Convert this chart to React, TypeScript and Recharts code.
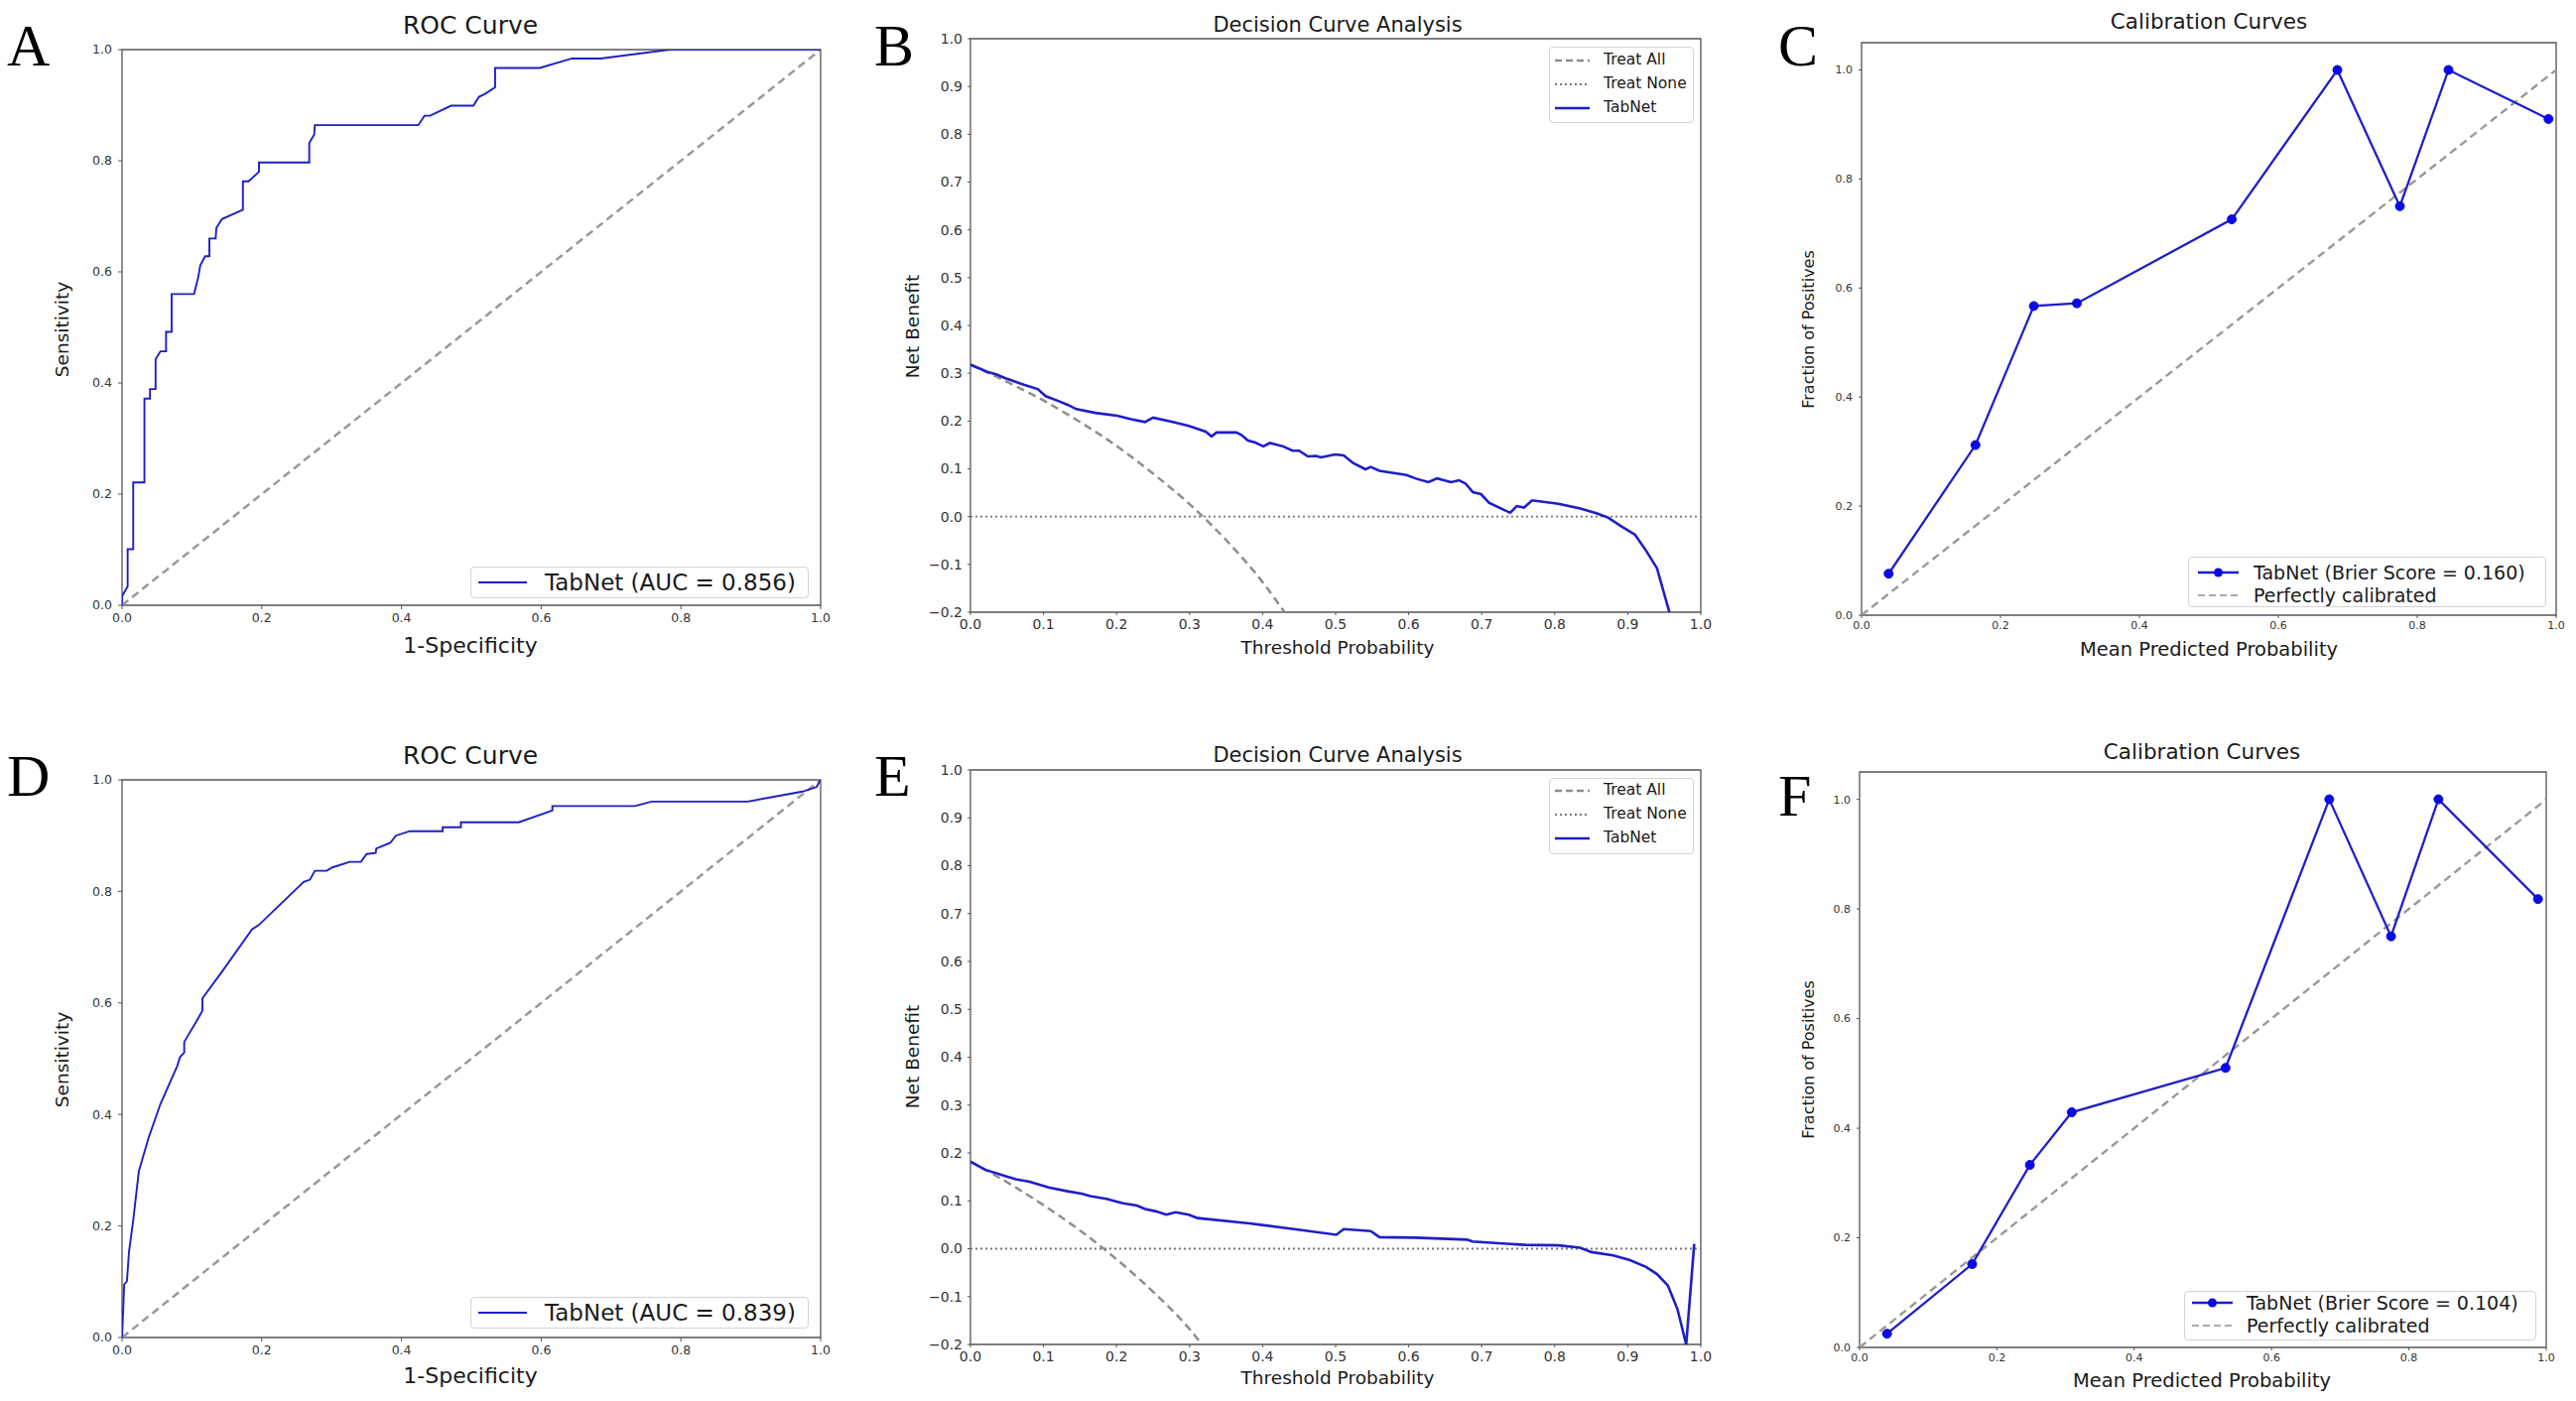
import React from 'react';
import { LineChart, Line, XAxis, YAxis, ReferenceArea } from 'recharts';

type P = { x: number; y: number };

// ---------- DATA ----------
const rocA: P[] = [
  { x: 0, y: 0 }, { x: 0, y: 0.016 }, { x: 0.008, y: 0.034 }, { x: 0.008, y: 0.101 }, { x: 0.016, y: 0.101 },
  { x: 0.016, y: 0.221 }, { x: 0.032, y: 0.221 }, { x: 0.032, y: 0.372 }, { x: 0.04, y: 0.372 }, { x: 0.04, y: 0.389 },
  { x: 0.048, y: 0.389 }, { x: 0.048, y: 0.443 }, { x: 0.055, y: 0.457 }, { x: 0.063, y: 0.457 }, { x: 0.063, y: 0.492 },
  { x: 0.071, y: 0.492 }, { x: 0.071, y: 0.56 }, { x: 0.103, y: 0.56 }, { x: 0.109, y: 0.59 }, { x: 0.112, y: 0.612 },
  { x: 0.119, y: 0.628 }, { x: 0.125, y: 0.628 }, { x: 0.125, y: 0.66 }, { x: 0.134, y: 0.66 }, { x: 0.135, y: 0.679 },
  { x: 0.143, y: 0.695 }, { x: 0.173, y: 0.712 }, { x: 0.173, y: 0.763 }, { x: 0.181, y: 0.763 }, { x: 0.196, y: 0.78 },
  { x: 0.196, y: 0.797 }, { x: 0.268, y: 0.797 }, { x: 0.268, y: 0.832 }, { x: 0.275, y: 0.847 }, { x: 0.276, y: 0.864 },
  { x: 0.424, y: 0.864 }, { x: 0.433, y: 0.881 }, { x: 0.441, y: 0.881 }, { x: 0.471, y: 0.899 }, { x: 0.503, y: 0.899 },
  { x: 0.511, y: 0.915 }, { x: 0.519, y: 0.92 }, { x: 0.534, y: 0.932 }, { x: 0.534, y: 0.967 }, { x: 0.598, y: 0.967 },
  { x: 0.644, y: 0.984 }, { x: 0.685, y: 0.984 }, { x: 0.784, y: 1.0 }, { x: 1.0, y: 1.0 },
];

const rocD: P[] = [
  { x: 0, y: 0 }, { x: 0.002, y: 0.061 }, { x: 0.003, y: 0.095 }, { x: 0.007, y: 0.101 }, { x: 0.01, y: 0.154 },
  { x: 0.016, y: 0.21 }, { x: 0.024, y: 0.298 }, { x: 0.038, y: 0.358 }, { x: 0.055, y: 0.419 }, { x: 0.079, y: 0.487 },
  { x: 0.083, y: 0.503 }, { x: 0.089, y: 0.511 }, { x: 0.089, y: 0.53 }, { x: 0.107, y: 0.568 }, { x: 0.115, y: 0.586 },
  { x: 0.115, y: 0.608 }, { x: 0.143, y: 0.656 }, { x: 0.186, y: 0.732 }, { x: 0.196, y: 0.74 }, { x: 0.26, y: 0.817 },
  { x: 0.269, y: 0.821 }, { x: 0.276, y: 0.837 }, { x: 0.293, y: 0.837 }, { x: 0.301, y: 0.843 }, { x: 0.326, y: 0.853 },
  { x: 0.342, y: 0.853 }, { x: 0.35, y: 0.867 }, { x: 0.363, y: 0.869 }, { x: 0.364, y: 0.877 }, { x: 0.384, y: 0.887 },
  { x: 0.392, y: 0.9 }, { x: 0.412, y: 0.908 }, { x: 0.459, y: 0.908 }, { x: 0.459, y: 0.915 }, { x: 0.485, y: 0.915 },
  { x: 0.485, y: 0.924 }, { x: 0.568, y: 0.924 }, { x: 0.616, y: 0.945 }, { x: 0.616, y: 0.953 }, { x: 0.734, y: 0.953 },
  { x: 0.758, y: 0.961 }, { x: 0.895, y: 0.961 }, { x: 0.974, y: 0.979 }, { x: 0.994, y: 0.987 }, { x: 1.0, y: 1.0 },
];

const chanceLine: P[] = [{ x: 0, y: 0 }, { x: 1, y: 1 }];
const treatNone: P[] = [{ x: 0, y: 0 }, { x: 1, y: 0 }];

const dcaBModel: P[] = [
  { x: 0, y: 0.318 }, { x: 0.023, y: 0.303 }, { x: 0.035, y: 0.298 }, { x: 0.047, y: 0.29 }, { x: 0.073, y: 0.276 },
  { x: 0.092, y: 0.267 }, { x: 0.103, y: 0.252 }, { x: 0.122, y: 0.241 }, { x: 0.133, y: 0.234 }, { x: 0.145, y: 0.225 },
  { x: 0.171, y: 0.217 }, { x: 0.201, y: 0.211 }, { x: 0.22, y: 0.204 }, { x: 0.239, y: 0.198 }, { x: 0.25, y: 0.207 },
  { x: 0.277, y: 0.198 }, { x: 0.299, y: 0.19 }, { x: 0.322, y: 0.178 }, { x: 0.33, y: 0.168 }, { x: 0.337, y: 0.176 },
  { x: 0.364, y: 0.176 }, { x: 0.371, y: 0.171 }, { x: 0.38, y: 0.159 }, { x: 0.39, y: 0.155 }, { x: 0.401, y: 0.147 },
  { x: 0.41, y: 0.154 }, { x: 0.428, y: 0.147 }, { x: 0.441, y: 0.138 }, { x: 0.45, y: 0.138 }, { x: 0.462, y: 0.126 },
  { x: 0.473, y: 0.127 }, { x: 0.48, y: 0.124 }, { x: 0.499, y: 0.13 }, { x: 0.511, y: 0.128 }, { x: 0.524, y: 0.112 },
  { x: 0.541, y: 0.099 }, { x: 0.548, y: 0.104 }, { x: 0.56, y: 0.096 }, { x: 0.597, y: 0.087 }, { x: 0.609, y: 0.08 },
  { x: 0.627, y: 0.072 }, { x: 0.639, y: 0.08 }, { x: 0.658, y: 0.072 }, { x: 0.669, y: 0.076 }, { x: 0.678, y: 0.069 },
  { x: 0.688, y: 0.051 }, { x: 0.699, y: 0.047 }, { x: 0.71, y: 0.029 }, { x: 0.729, y: 0.015 }, { x: 0.739, y: 0.008 },
  { x: 0.748, y: 0.022 }, { x: 0.758, y: 0.019 }, { x: 0.769, y: 0.034 }, { x: 0.805, y: 0.027 }, { x: 0.835, y: 0.017 },
  { x: 0.857, y: 0.007 }, { x: 0.873, y: -0.002 }, { x: 0.891, y: -0.02 }, { x: 0.91, y: -0.038 }, { x: 0.925, y: -0.071 },
  { x: 0.94, y: -0.108 }, { x: 0.957, y: -0.2 },
];

const dcaBAll: P[] = [
  { x: 0, y: 0.318 }, { x: 0.05, y: 0.282 }, { x: 0.1, y: 0.243 }, { x: 0.15, y: 0.198 }, { x: 0.2, y: 0.148 },
  { x: 0.25, y: 0.09 }, { x: 0.3, y: 0.026 }, { x: 0.35, y: -0.049 }, { x: 0.4, y: -0.137 }, { x: 0.43, y: -0.2 },
];

const dcaEModel: P[] = [
  { x: 0, y: 0.182 }, { x: 0.02, y: 0.165 }, { x: 0.039, y: 0.156 }, { x: 0.062, y: 0.145 }, { x: 0.081, y: 0.14 },
  { x: 0.107, y: 0.128 }, { x: 0.133, y: 0.12 }, { x: 0.152, y: 0.115 }, { x: 0.164, y: 0.11 }, { x: 0.186, y: 0.104 },
  { x: 0.209, y: 0.095 }, { x: 0.228, y: 0.09 }, { x: 0.239, y: 0.083 }, { x: 0.254, y: 0.078 }, { x: 0.268, y: 0.071 },
  { x: 0.281, y: 0.076 }, { x: 0.299, y: 0.071 }, { x: 0.311, y: 0.064 }, { x: 0.382, y: 0.053 }, { x: 0.443, y: 0.041 },
  { x: 0.501, y: 0.029 }, { x: 0.511, y: 0.041 }, { x: 0.548, y: 0.037 }, { x: 0.56, y: 0.024 }, { x: 0.609, y: 0.023 },
  { x: 0.68, y: 0.019 }, { x: 0.687, y: 0.015 }, { x: 0.759, y: 0.008 }, { x: 0.805, y: 0.007 }, { x: 0.835, y: 0.002 },
  { x: 0.85, y: -0.007 }, { x: 0.88, y: -0.014 }, { x: 0.903, y: -0.024 }, { x: 0.925, y: -0.038 }, { x: 0.94, y: -0.053 },
  { x: 0.955, y: -0.077 }, { x: 0.968, y: -0.126 }, { x: 0.98, y: -0.2 }, { x: 0.991, y: 0.01 },
];

const dcaEAll: P[] = [
  { x: 0, y: 0.182 }, { x: 0.05, y: 0.139 }, { x: 0.1, y: 0.091 }, { x: 0.15, y: 0.038 }, { x: 0.2, y: -0.022 },
  { x: 0.25, y: -0.09 }, { x: 0.3, y: -0.168 }, { x: 0.317, y: -0.2 },
];

const calibC: P[] = [
  { x: 0.039, y: 0.076 }, { x: 0.164, y: 0.312 }, { x: 0.248, y: 0.567 }, { x: 0.31, y: 0.572 }, { x: 0.533, y: 0.726 },
  { x: 0.685, y: 1.0 }, { x: 0.775, y: 0.75 }, { x: 0.845, y: 1.0 }, { x: 0.989, y: 0.91 },
];

const calibF: P[] = [
  { x: 0.04, y: 0.025 }, { x: 0.164, y: 0.152 }, { x: 0.248, y: 0.333 }, { x: 0.309, y: 0.429 }, { x: 0.533, y: 0.51 },
  { x: 0.684, y: 1.0 }, { x: 0.774, y: 0.75 }, { x: 0.843, y: 1.0 }, { x: 0.988, y: 0.818 },
];

const rocTicks = [0, 0.2, 0.4, 0.6, 0.8, 1.0];
const dcaXTicks = [0, 0.1, 0.2, 0.3, 0.4, 0.5, 0.6, 0.7, 0.8, 0.9, 1.0];
const dcaYTicks = [-0.2, -0.1, 0, 0.1, 0.2, 0.3, 0.4, 0.5, 0.6, 0.7, 0.8, 0.9, 1.0];
const calTicks = [0, 0.2, 0.4, 0.6, 0.8, 1.0];

// ---------- STYLE ----------
const BLUE = '#1e1ec8';
const MARKER = '#0a0ae6';
const GRAY = '#8e8e8e';
const SPINE = '#555';
const FONT = "'DejaVu Sans', Arial, sans-serif";
const fmt = (v: number) => v.toFixed(1).replace('-', '\u2212');

type Box = { L: number; T: number; R: number; B: number };

function Plot(props: {
  box: Box; yDomain: [number, number]; xTicks: number[]; yTicks: number[];
  tickFont: number; tickSize: number; xMargin: number; yMargin: number; yW: number; children: React.ReactNode;
}) {
  const { box, yDomain, xTicks, yTicks, tickFont, tickSize, xMargin, yMargin, yW } = props;
  const mL = 6, mT = 20, mR = 16, mB = 6, xH = 36;
  const width = mL + yW + (box.R - box.L) + mR;
  const height = mT + (box.B - box.T) + xH + mB;
  const tick = { fontSize: tickFont, fill: '#333', fontFamily: FONT };
  return (
    <div style={{ position: 'absolute', left: box.L - yW - mL, top: box.T - mT }}>
      <LineChart width={width} height={height} margin={{ top: mT, right: mR, bottom: mB, left: mL }}>
        <XAxis type="number" dataKey="x" domain={[0, 1]} ticks={xTicks} interval={0} allowDataOverflow
          axisLine={false} tickLine={{ stroke: SPINE }} tickSize={tickSize} tickMargin={xMargin}
          tick={tick} tickFormatter={fmt} height={xH} />
        <YAxis type="number" dataKey="y" domain={yDomain} ticks={yTicks} interval={0} allowDataOverflow
          axisLine={false} tickLine={{ stroke: SPINE }} tickSize={tickSize} tickMargin={yMargin}
          tick={tick} tickFormatter={fmt} width={yW} />
        <ReferenceArea x1={0} x2={1} y1={yDomain[0]} y2={yDomain[1]} fill="none" fillOpacity={0}
          stroke={SPINE} strokeWidth={1.3} ifOverflow="visible" />
        {props.children}
      </LineChart>
    </div>
  );
}

function Txt(p: { x: number; y: number; size: number; text: string; rotate?: boolean; family?: string; color?: string }) {
  return (
    <div style={{
      position: 'absolute', left: p.x, top: p.y, transform: `translate(-50%,-50%)${p.rotate ? ' rotate(-90deg)' : ''}`,
      fontSize: p.size, fontFamily: p.family || FONT, whiteSpace: 'nowrap', lineHeight: 1, color: p.color || '#1a1a1a',
    }}>{p.text}</div>
  );
}

function Letter(p: { x: number; capTop: number; text: string }) {
  return (
    <div style={{
      position: 'absolute', left: p.x, top: p.capTop - 10.6, fontSize: 60, lineHeight: '60px',
      fontFamily: "'Liberation Serif', 'Times New Roman', serif", color: '#000',
    }}>{p.text}</div>
  );
}

type LegItem = { label: string; kind: 'solid' | 'dashed' | 'dotted' | 'marker'; color: string; w: number; y: number };

function LegendBox(p: { L: number; T: number; R: number; B: number; s0: number; s1: number; tx: number; size: number; items: LegItem[] }) {
  return (
    <>
      <div style={{
        position: 'absolute', left: p.L, top: p.T, width: p.R - p.L, height: p.B - p.T, boxSizing: 'border-box',
        border: '1px solid #d4d4d4', borderRadius: 4, background: 'rgba(255,255,255,0.85)',
      }} />
      {p.items.map((it) => (
        <React.Fragment key={it.label}>
          <svg style={{ position: 'absolute', left: p.s0, top: it.y - 8 }} width={p.s1 - p.s0} height={16}>
            <line x1={0} y1={8} x2={p.s1 - p.s0} y2={8} stroke={it.color} strokeWidth={it.w}
              strokeDasharray={it.kind === 'dashed' ? '7 4' : it.kind === 'dotted' ? '2 3' : undefined} />
            {it.kind === 'marker' && <circle cx={(p.s1 - p.s0) / 2} cy={8} r={4.5} fill={MARKER} />}
          </svg>
          <div style={{
            position: 'absolute', left: p.tx, top: it.y - p.size / 2, fontSize: p.size, lineHeight: `${p.size}px`,
            fontFamily: FONT, color: '#1a1a1a', whiteSpace: 'nowrap',
          }}>{it.label}</div>
        </React.Fragment>
      ))}
    </>
  );
}

const boxA: Box = { L: 123, T: 50, R: 827, B: 610 };
const boxB: Box = { L: 978, T: 39, R: 1714, B: 617 };
const boxC: Box = { L: 1876, T: 43, R: 2576, B: 620 };
const boxD: Box = { L: 123, T: 786, R: 827, B: 1348 };
const boxE: Box = { L: 978, T: 776, R: 1714, B: 1355 };
const boxF: Box = { L: 1874, T: 778, R: 2566, B: 1358 };

function RocPanel(p: { box: Box; data: P[]; auc: string; letter: string; dy: number }) {
  const { box, dy } = p;
  return (
    <>
      <Plot box={box} yDomain={[0, 1]} xTicks={rocTicks} yTicks={rocTicks} tickFont={12.5} tickSize={4}
        xMargin={4} yMargin={6} yW={46}>
        <Line data={chanceLine} dataKey="y" type="linear" stroke="#999" strokeWidth={2.5} strokeDasharray="8 5"
          dot={false} isAnimationActive={false} />
        <Line data={p.data} dataKey="y" type="linear" stroke={BLUE} strokeWidth={1.9} dot={false}
          isAnimationActive={false} />
      </Plot>
      <Letter x={7} capTop={27 + dy} text={p.letter} />
      <Txt x={474} y={25 + dy} size={25} text="ROC Curve" />
      <Txt x={474} y={651 + dy} size={22} text="1-Specificity" />
      <Txt x={63} y={332 + dy} size={18.5} text="Sensitivity" rotate />
      <LegendBox L={474} T={571 + dy} R={815} B={603 + dy} s0={482} s1={531} tx={549} size={23}
        items={[{ label: `TabNet (AUC = ${p.auc})`, kind: 'solid', color: BLUE, w: 2, y: 587 + dy }]} />
    </>
  );
}

function DcaPanel(p: { box: Box; model: P[]; all: P[]; letter: string; dy: number; legT: number; legB: number; rows: number[] }) {
  const { box, dy } = p;
  return (
    <>
      <Plot box={box} yDomain={[-0.2, 1]} xTicks={dcaXTicks} yTicks={dcaYTicks} tickFont={14} tickSize={3}
        xMargin={4} yMargin={5} yW={52}>
        <Line data={p.all} dataKey="y" type="monotone" stroke={GRAY} strokeWidth={2.5} strokeDasharray="8 5"
          dot={false} isAnimationActive={false} />
        <Line data={treatNone} dataKey="y" type="linear" stroke="#777" strokeWidth={1.8} strokeDasharray="2 3"
          dot={false} isAnimationActive={false} />
        <Line data={p.model} dataKey="y" type="linear" stroke={BLUE} strokeWidth={2.6} dot={false}
          isAnimationActive={false} />
      </Plot>
      <Letter x={881} capTop={27 + dy} text={p.letter} />
      <Txt x={1348} y={25 + dy} size={21} text="Decision Curve Analysis" />
      <Txt x={1348} y={653 + dy} size={18.5} text="Threshold Probability" />
      <Txt x={920} y={329 + dy} size={18.5} text="Net Benefit" rotate />
      <LegendBox L={1561} T={p.legT} R={1707} B={p.legB} s0={1567} s1={1602} tx={1616} size={15.5}
        items={[
          { label: 'Treat All', kind: 'dashed', color: GRAY, w: 2.4, y: p.rows[0] },
          { label: 'Treat None', kind: 'dotted', color: '#777', w: 1.8, y: p.rows[1] },
          { label: 'TabNet', kind: 'solid', color: BLUE, w: 2.6, y: p.rows[2] },
        ]} />
    </>
  );
}

function CalPanel(p: {
  box: Box; data: P[]; brier: string; letter: string; letterTop: number; titleX: number; titleY: number; xLabY: number;
  yLabY: number; leg: { L: number; T: number; R: number; B: number; s0: number; s1: number; tx: number; r0: number; r1: number };
}) {
  const { box, leg } = p;
  return (
    <>
      <Plot box={box} yDomain={[0, 1.05]} xTicks={calTicks} yTicks={calTicks} tickFont={11} tickSize={3}
        xMargin={3} yMargin={6} yW={40}>
        <Line data={chanceLine} dataKey="y" type="linear" stroke="#999" strokeWidth={2.4} strokeDasharray="8 5"
          dot={false} isAnimationActive={false} />
        <Line data={p.data} dataKey="y" type="linear" stroke={BLUE} strokeWidth={2.3}
          dot={{ r: 4.5, fill: MARKER, stroke: MARKER, strokeWidth: 1 }} isAnimationActive={false} />
      </Plot>
      <Letter x={1792} capTop={p.letterTop} text={p.letter} />
      <Txt x={p.titleX} y={p.titleY} size={21.5} text="Calibration Curves" />
      <Txt x={p.titleX} y={p.xLabY} size={19.5} text="Mean Predicted Probability" />
      <Txt x={1823} y={p.yLabY} size={16} text="Fraction of Positives" rotate />
      <LegendBox L={leg.L} T={leg.T} R={leg.R} B={leg.B} s0={leg.s0} s1={leg.s1} tx={leg.tx} size={19}
        items={[
          { label: `TabNet (Brier Score = ${p.brier})`, kind: 'marker', color: BLUE, w: 2.3, y: leg.r0 },
          { label: 'Perfectly calibrated', kind: 'dashed', color: '#aaa', w: 2.2, y: leg.r1 },
        ]} />
    </>
  );
}

export default function App() {
  return (
    <div style={{ position: 'absolute', left: 0, top: 0, width: 2596, height: 1412, overflow: 'hidden', background: '#fff' }}>
      <RocPanel box={boxA} data={rocA} auc="0.856" letter="A" dy={0} />
      <DcaPanel box={boxB} model={dcaBModel} all={dcaBAll} letter="B" dy={0} legT={47} legB={124} rows={[61, 85, 109]} />
      <CalPanel box={boxC} data={calibC} brier="0.160" letter="C" letterTop={27} titleX={2226} titleY={22} xLabY={655}
        yLabY={332} leg={{ L: 2205, T: 561, R: 2566, B: 612, s0: 2215, s1: 2256, tx: 2271, r0: 577, r1: 600 }} />
      <RocPanel box={boxD} data={rocD} auc="0.839" letter="D" dy={736} />
      <DcaPanel box={boxE} model={dcaEModel} all={dcaEAll} letter="E" dy={736} legT={784} legB={861} rows={[797, 821, 845]} />
      <CalPanel box={boxF} data={calibF} brier="0.104" letter="F" letterTop={783} titleX={2219} titleY={758} xLabY={1392}
        yLabY={1068} leg={{ L: 2201, T: 1301, R: 2556, B: 1351, s0: 2209, s1: 2250, tx: 2264, r0: 1313, r1: 1336 }} />
    </div>
  );
}
